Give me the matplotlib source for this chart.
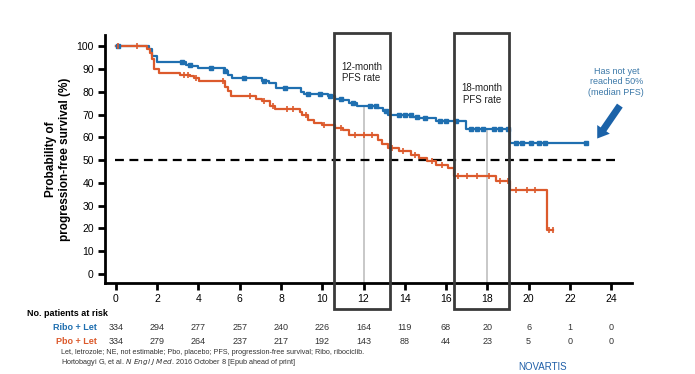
import matplotlib.pyplot as plt
from matplotlib.patches import Rectangle
import numpy as np

plt.rcParams['font.family'] = ['Liberation Sans', 'DejaVu Sans']

# Kaplan-Meier steps (months, % PFS)
ribo_t = [0, 1.6, 1.75, 2.0, 3.4, 3.7, 4.0, 5.3, 5.45, 5.65, 7.1, 7.4, 7.75,
          8.95, 9.1, 10.3, 10.6, 11.0, 11.3, 11.7, 12.7, 12.95, 13.2, 14.4,
          14.7, 15.5, 16.95, 19.1, 22.8]
ribo_s = [100, 99, 96, 93.3, 92, 91.5, 90.6, 89, 87.5, 86.2, 85, 84, 81.8,
          80, 78.9, 78, 77, 76.5, 75, 73.6, 72.8, 71.5, 70, 69, 68.5, 67,
          63.9, 57.6, 57.6]
ribo_cens = [0.1, 3.2, 3.6, 4.6, 5.3, 6.2, 7.2, 8.2, 9.3, 9.9, 10.4, 10.9,
             11.5, 12.3, 12.6, 13.1, 13.7, 14.0, 14.3, 14.6, 15.0, 15.7, 16.0,
             16.5, 17.2, 17.5, 17.8, 18.3, 18.6, 19.0, 19.4, 19.7, 20.1, 20.5,
             20.8, 22.8]

pbo_t = [0, 1.5, 1.65, 1.75, 1.85, 2.1, 3.1, 3.6, 3.8, 4.05, 5.3, 5.45, 5.6,
         6.8, 7.1, 7.45, 7.7, 8.9, 9.0, 9.3, 9.6, 10.0, 10.6, 11.0, 11.3,
         12.7, 12.9, 13.2, 13.7, 14.3, 14.7, 15.1, 15.5, 16.1, 16.4, 18.4,
         19.1, 20.9, 21.2]
pbo_s = [100, 99, 97, 94.3, 90, 88.4, 87.5, 86.9, 86, 84.7, 82, 80.3, 78,
         77, 75.9, 73.7, 72.3, 71, 70, 67.8, 66.4, 65.5, 64, 63.4, 61.2,
         59, 57, 55.4, 53.9, 52.4, 51, 49.5, 48, 46.6, 42.9, 40.7,
         37, 19.1, 19.1]
pbo_cens = [0.1, 1.0, 3.3, 3.5, 3.9, 5.2, 6.5, 7.2, 7.6, 8.3, 8.6, 9.2, 10.1,
            10.9, 11.6, 12.0, 12.4, 13.4, 13.9, 14.5, 15.3, 15.8, 16.6, 17.0,
            17.5, 18.1, 18.6, 19.0, 19.4, 19.9, 20.3, 21.0, 21.2]

months = [0, 2, 4, 6, 8, 10, 12, 14, 16, 18, 20, 22, 24]
ribo_risk = [334, 294, 277, 257, 240, 226, 164, 119, 68, 20, 6, 1, 0]
pbo_risk = [334, 279, 264, 237, 217, 192, 143, 88, 44, 23, 5, 0, 0]

blue = '#1f6fb0'
red = '#dc5a2c'


def step_at(t, ts, ss):
    i = np.searchsorted(ts, t, side='right') - 1
    return ss[max(i, 0)]


fig = plt.figure(figsize=(6.95, 3.74), dpi=100)
ax = fig.add_axes([0.151, 0.2433, 0.758, 0.663])
ax.set_xlim(-0.53, 25)
ax.set_ylim(-4, 105)

ax.axhline(50, xmin=0.02, xmax=0.975, color='black', lw=1.6, ls=(0, (4, 2.5)))

# gray guide lines at 12 and 18 months
for m in (12, 18):
    ax.vlines(m, -4, step_at(m, ribo_t, ribo_s), color='#c8c8c8', lw=1.4, zorder=1)

ax.step(ribo_t, ribo_s, where='post', color=blue, lw=1.6, zorder=3)
ax.step(pbo_t, pbo_s, where='post', color=red, lw=1.6, zorder=3)
ax.plot(ribo_cens, [step_at(t, ribo_t, ribo_s) for t in ribo_cens], 's',
        color=blue, ms=2.8, zorder=4)
ax.plot(pbo_cens, [step_at(t, pbo_t, pbo_s) for t in pbo_cens], '|',
        color=red, ms=4, mew=1.2, zorder=4)

# PFS rate boxes
for x0, x1, txt, ty in [(10.55, 13.26, '12-month\nPFS rate', 88.5),
                        (16.4, 19.06, '18-month\nPFS rate', 79)]:
    ax.add_patch(Rectangle((x0, -15.4), x1 - x0, 121.1, fill=False,
                           ec='#3a3a3a', lw=2, clip_on=False, zorder=5))
    ax.text((x0 + x1) / 2, ty, txt, ha='center', va='center', fontsize=7,
            color='#222222')

ax.annotate('', xy=(23.25, 58.5), xytext=(24.5, 75),
            arrowprops=dict(arrowstyle='simple,head_width=1.1,head_length=0.8,tail_width=0.5',
                            color='#1b62a8', lw=0), annotation_clip=False)
ax.text(24.25, 84.5, 'Has not yet\nreached 50%\n(median PFS)', ha='center',
        va='center', fontsize=6.5, color='#3b78a8', clip_on=False)

for s in ('top', 'right'):
    ax.spines[s].set_visible(False)
for s in ('left', 'bottom'):
    ax.spines[s].set_linewidth(2)
ax.set_xticks(months)
ax.set_yticks(range(0, 101, 10))
ax.tick_params(width=2, length=5, labelsize=7.5, color='black', pad=3)
ax.set_ylabel('Probability of\nprogression-free survival (%)', fontsize=8.5,
              fontweight='bold', labelpad=4)

# patients at risk table
fig.text(27 / 695, 1 - 314 / 374, 'No. patients at risk', fontsize=6.5,
         fontweight='bold', va='center')
fig.text(97 / 695, 1 - 327 / 374, 'Ribo + Let', fontsize=6.5,
         fontweight='bold', color=blue, ha='right', va='center')
fig.text(97 / 695, 1 - 341 / 374, 'Pbo + Let', fontsize=6.5,
         fontweight='bold', color=red, ha='right', va='center')
for m, a, b in zip(months, ribo_risk, pbo_risk):
    xf = fig.transFigure.inverted().transform(ax.transData.transform((m, 0)))[0]
    fig.text(xf, 1 - 327 / 374, str(a), fontsize=6.5, ha='center', va='center',
             color='#333333')
    fig.text(xf, 1 - 341 / 374, str(b), fontsize=6.5, ha='center', va='center',
             color='#333333')

fig.text(61 / 695, 1 - 352 / 374,
         'Let, letrozole; NE, not estimable; Pbo, placebo; PFS, progression-free '
         'survival; Ribo, ribociclib.', fontsize=5.2, va='center', color='#333333')
fig.text(61 / 695, 1 - 362 / 374,
         'Hortobagyi G, et al. $\\it{N\\ Engl\\ J\\ Med}$. 2016 October 8 '
         '[Epub ahead of print]', fontsize=5.2, va='center', color='#333333')
fig.text(518 / 695, 1 - 372 / 374, 'NOVARTIS', fontsize=7, color='#1f5fa8',
         va='bottom')

fig.savefig('out.png', dpi=100)
